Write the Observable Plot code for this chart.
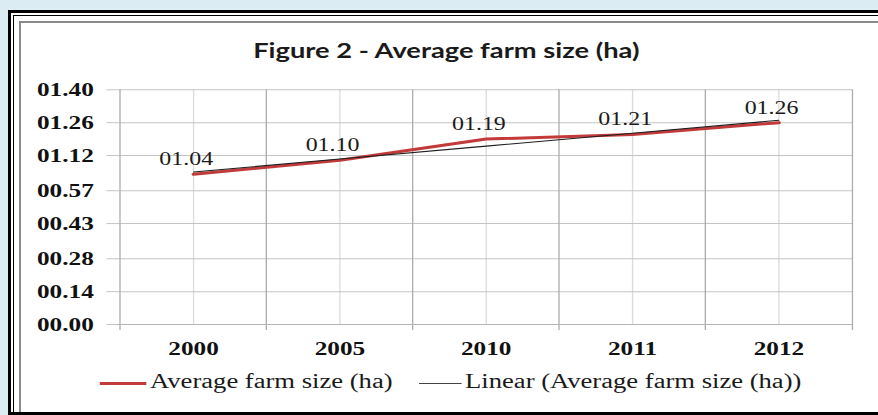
<!DOCTYPE html>
<html><head><meta charset="utf-8">
<script src="https://cdn.jsdelivr.net/npm/d3@7"></script>
<script src="https://cdn.jsdelivr.net/npm/@observablehq/plot@0.6"></script>
<style>
html,body{margin:0;padding:0;width:878px;height:415px;overflow:hidden;background:#dbecf3;}
.f{position:absolute;box-sizing:border-box;}
#content{position:absolute;left:0;top:0;width:660px;height:415px;transform-origin:0 0;}
#title{position:absolute;left:0;width:671px;top:37.5px;text-align:center;font:700 20.5px/1.2 Lato,sans-serif;color:#1a1a1a;white-space:nowrap;}
#chart{position:absolute;left:0;top:70px;}
.lg{position:absolute;top:369.5px;font:20px/22px "Liberation Serif",serif;color:#1a1a1a;white-space:nowrap;}
.sw{position:absolute;}
[aria-label="y-axis tick label"],[aria-label="x-axis tick label"]{font-weight:700;}
</style>
</head><body>
<div class="f" style="left:8px;top:10px;width:900px;height:420px;background:#fff;border-left:3px solid #000;border-top:3px solid #000;"></div>
<div class="f" style="left:13px;top:15px;width:900px;height:420px;border-left:1.5px solid #000;border-top:1.5px solid #000;"></div>
<div class="f" style="left:19px;top:21px;width:900px;height:420px;border-left:2px solid #8a8a8a;border-top:2px solid #8a8a8a;"></div>
<div class="f" style="left:8px;top:412px;width:900px;height:3px;background:#000;"></div>
<div id="content">
  <div id="title"></div>
  <div id="chart"></div>
  <div class="sw" id="sw1" style="left:75.2px;top:381.5px;width:35.3px;height:3px;"></div>
  <div class="lg" id="lg1" style="left:112.8px;"></div>
  <div class="sw" id="sw2" style="left:315px;top:382.5px;width:32.4px;height:1px;"></div>
  <div class="lg" id="lg2" style="left:349.6px;"></div>
</div>
<script>
// ---- data ----
const title = "Figure 2 - Average farm size (ha)";
const years = ["2000", "2005", "2010", "2011", "2012"];
const farmSize = [1.04, 1.10, 1.19, 1.21, 1.26];
const yTickLabels = ["00.00", "00.14", "00.28", "00.43", "00.57", "01.12", "01.26", "01.40"];
const seriesName = "Average farm size (ha)";
const trendName = "Linear (Average farm size (ha))";

// ---- styling / layout ----
const W = 660, H = 295;
const S = 878 / W; // horizontal stretch of the original picture
const mL = 88, mR = 19, mT = 19.3, mB = 41;
const red = "#c23a3a", trendColor = "#1e1e1e";
const serif = "'Liberation Serif', 'Times New Roman', serif";

document.getElementById("content").style.transform = `scaleX(${S})`;
document.getElementById("title").textContent = title;
document.getElementById("lg1").textContent = seriesName;
document.getElementById("lg2").textContent = trendName;
document.getElementById("sw1").style.background = red;
document.getElementById("sw2").style.background = "#444";

// values are shown as "MM.SS"
const mmss = s => { const [m, sec] = s.split(".").map(Number); return m * 60 + sec; };
const fmt = v => (v < 10 ? "0" : "") + v.toFixed(2);
const data = years.map((year, i) => ({year, i, label: fmt(farmSize[i]), pos: mmss(fmt(farmSize[i]))}));
const yTicks = yTickLabels.map(mmss);
const tickLabel = new Map(yTicks.map((t, i) => [t, yTickLabels[i]]));

// linear trend (least squares over category index)
const mx = d3.mean(data, d => d.i), my = d3.mean(data, d => d.pos);
const slope = d3.sum(data, d => (d.i - mx) * (d.pos - my)) / d3.sum(data, d => (d.i - mx) ** 2);
const trend = data.map(d => ({year: d.year, pos: my + slope * (d.i - mx)}));

const step = (W - mL - mR) / years.length;

const chart = Plot.plot({
  width: W, height: H,
  marginLeft: mL, marginRight: mR, marginTop: mT, marginBottom: mB,
  style: {fontFamily: serif, fontSize: "19px", color: "#111", background: "transparent", overflow: "visible"},
  x: {type: "point", domain: years, padding: 0.5},
  y: {domain: [yTicks[0], yTicks[yTicks.length - 1]]},
  marks: [
    Plot.ruleX(years, {x: d => d, stroke: "#dcdcdc"}),
    Plot.ruleY(yTicks, {y: d => d, stroke: "#c4c4c4"}),
    Plot.ruleX(years, {x: d => d, dx: -step / 2, stroke: "#adadad", insetBottom: -6}),
    Plot.ruleX([years[years.length - 1]], {x: d => d, dx: step / 2, stroke: "#adadad", insetBottom: -6}),
    Plot.ruleY([yTicks[0]], {y: d => d, stroke: "#b4b4b4"}),
    Plot.axisY({ticks: yTicks, tickFormat: d => tickLabel.get(d), tickSize: 8, tickPadding: 10,
      stroke: "#c4c4c4", strokeOpacity: 1, fill: "#111", fontWeight: "bold", fontSize: 19, label: null}),
    Plot.axisX({tickSize: 0, tickPadding: 17, fill: "#111", fontWeight: "bold", fontSize: 19, label: null}),
    Plot.line(data, {x: "year", y: "pos", stroke: red, strokeWidth: 3}),
    Plot.line(trend, {x: "year", y: "pos", stroke: trendColor, strokeWidth: 1.1}),
    Plot.text(data, {x: "year", y: "pos", text: "label", lineAnchor: "bottom", dy: -9, dx: -5.5,
      fontSize: 18, fill: "#1a1a1a"})
  ]
});
document.getElementById("chart").appendChild(chart);
</script>
</body></html>
